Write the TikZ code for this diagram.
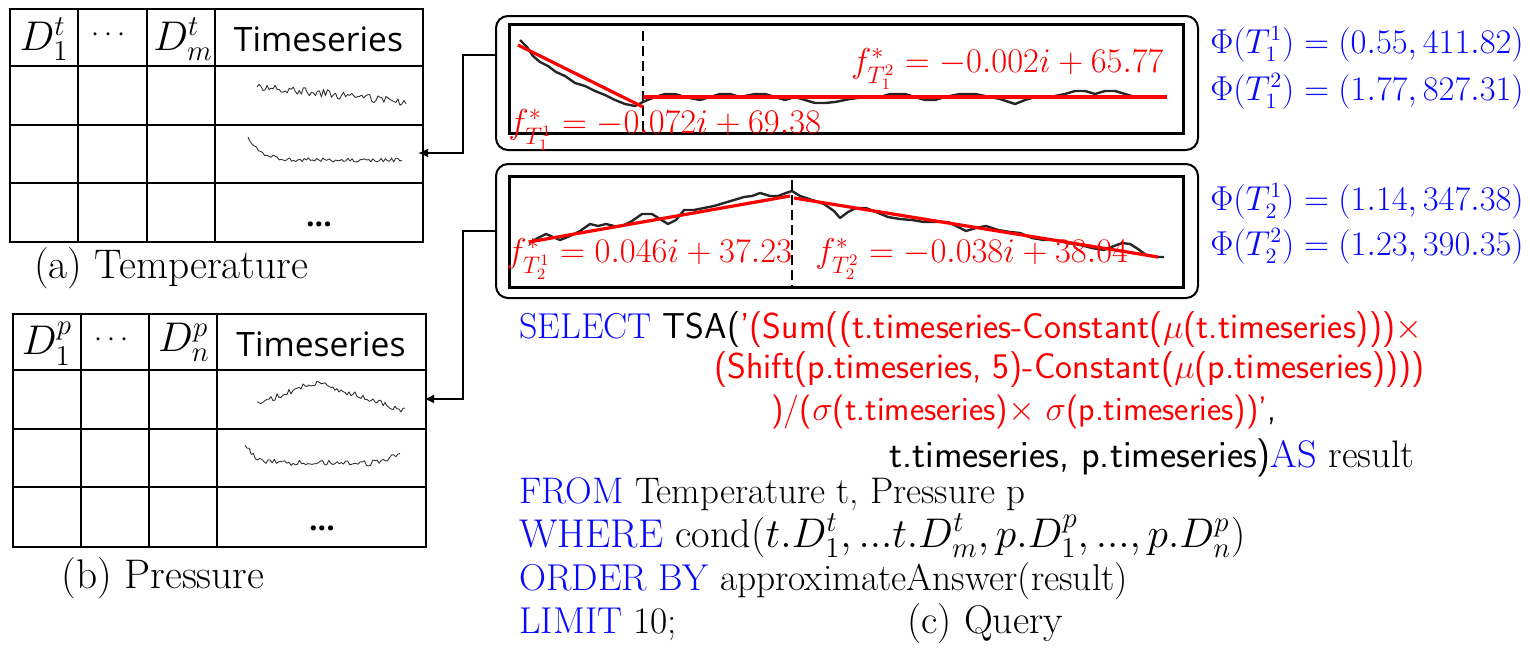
\documentclass[tikz,border=0pt]{standalone}
\usepackage{amsmath}
\usepackage{fontspec}
\newfontfamily\osans{Open Sans}
\usetikzlibrary{arrows.meta}
\definecolor{qblue}{RGB}{10,10,250}
\definecolor{qred}{RGB}{250,0,0}
\begin{document}
\begin{tikzpicture}[x=0.5pt,y=-0.5pt,
  tabline/.style={line width=1pt},
  hdrtext/.style={font=\fontsize{21.5}{23}\selectfont, inner sep=0pt},
  hdrdots/.style={font=\fontsize{14}{16}\selectfont, inner sep=0pt},
  hdrsf/.style={font=\osans\fontsize{16.8}{19}\selectfont, inner sep=0pt},
  captext/.style={font=\fontsize{20.7}{23}\selectfont, inner sep=0pt},
  spark/.style={line width=0.45pt, black!80, line join=round},
  tseries/.style={line width=1.2pt, black!85, line join=round},
  fitline/.style={line width=1.6pt, qred},
  cutline/.style={line width=0.9pt, dashed, dash pattern=on 5pt off 2.5pt},
  outerbox/.style={line width=1pt, rounded corners=6pt},
  innerbox/.style={line width=1.3pt},
  lbltext/.style={text=qred, font=\fontsize{17}{19}\selectfont, inner sep=0pt},
  phitext/.style={text=qblue, font=\fontsize{16}{18}\selectfont, inner sep=0pt, anchor=base west},
  sqltext/.style={inner sep=0pt, anchor=base west},
  arr/.style={line width=0.9pt, -{Latex[length=5pt,width=4.5pt]}},
  dotstext/.style={font=\osans\bfseries\fontsize{15}{17}\selectfont, inner sep=0pt, anchor=base}
]
\useasboundingbox (0,0) rectangle (1530,659);
\pgfmathsetseed{7}

% ---------- Table (a)
\node[draw, tabline, minimum width=206.5pt, minimum height=116.5pt, inner sep=0pt, anchor=north west] (tabA) at (9,8) {};
\foreach \x in {78,147,215} \draw[tabline] (\x,8) -- (\x,241);
\foreach \y in {66,125,183} \draw[tabline] (9,\y) -- (422,\y);
\node[hdrtext] (a1) at (44,39) {$D_1^t$};
\node[hdrdots] (a2) at (111,35) {$\cdots$};
\node[hdrtext] (a3) at (183,39) {$D_m^t$};
\node[hdrsf] (a4) at (318.5,39) {Timeseries};
\node[dotstext] (a5) at (319,226) {...};
\draw[spark] plot[domain=257:406,samples=75] (\x,{86+0.11*(\x-257)+4*rand});
\draw[spark] plot[domain=248:402,samples=75] (\x,{160-24*exp(-(\x-248)/12)+2*rand});
\node[captext] (capA) at (171,268) {(a) Temperature};

% ---------- Table (b)
\node[draw, tabline, minimum width=206.5pt, minimum height=116.5pt, inner sep=0pt, anchor=north west] (tabB) at (12,313) {};
\foreach \x in {81,149,217} \draw[tabline] (\x,313) -- (\x,546);
\foreach \y in {370,429,487} \draw[tabline] (12,\y) -- (425,\y);
\node[hdrtext] (b1) at (47,344) {$D_1^p$};
\node[hdrdots] (b2) at (114,340) {$\cdots$};
\node[hdrtext] (b3) at (184,342) {$D_n^p$};
\node[hdrsf] (b4) at (321,344) {Timeseries};
\node[dotstext] (b5) at (322,530) {...};
\draw[spark] plot[domain=257:405,samples=75] (\x,{((\x<316)?(404-22*(\x-257)/59):(382+29*(\x-316)/89))+3*rand});
\draw[spark] plot[domain=245:400,samples=75] (\x,{463-19*exp(-(\x-245)/10)-8*(\x>370)*((\x-370)/30)+3*rand});
\node[captext] (capB) at (163,578) {(b) Pressure};

% ---------- Top segmented series box
\node[draw, outerbox, minimum width=351pt, minimum height=67pt, inner sep=0pt, anchor=north west] (boxT) at (495,15) {};
\node[draw, innerbox, minimum width=337pt, minimum height=54.5pt, inner sep=0pt, anchor=north west] (inT) at (508,23) {};
\draw[tseries] (520,40) -- (527,47) -- (533,56) -- (540,62) -- (548,66) -- (556,72) -- (565,76) -- (575,83) -- (585,86) -- (595,91) -- (605,95) -- (615,100) -- (625,104) -- (635,106) -- (645,101) -- (655,97) -- (665,94) -- (675,94) -- (685,97) -- (700,100) -- (710,97) -- (720,94) -- (730,94) -- (740,97) -- (755,94) -- (765,94) -- (775,97) -- (785,100) -- (795,97) -- (805,100) -- (815,103) -- (825,103) -- (835,102) -- (850,99) -- (865,97) -- (880,97) -- (890,94) -- (905,94) -- (915,97) -- (925,100) -- (935,100) -- (945,97) -- (960,94) -- (975,94) -- (990,97) -- (1000,99) -- (1015,104) -- (1025,100) -- (1035,97) -- (1050,97) -- (1065,94) -- (1075,91) -- (1085,91) -- (1095,94) -- (1105,91) -- (1115,91) -- (1125,94) -- (1135,97) -- (1145,97) -- (1165,97);
\draw[cutline] (643,31) -- (643,132);
\draw[fitline] (518,45) -- (643,107);
\draw[fitline] (643,97) -- (1167,97);
\node[lbltext, anchor=base east] (l12) at (1164,72) {$f^*_{T_1^2} = -0.002i + 65.77$};
\node[lbltext, anchor=base west] (l11) at (508,133) {$f^*_{T_1^1} = -0.072i + 69.38$};

% ---------- Bottom segmented series box
\node[draw, outerbox, minimum width=351pt, minimum height=67pt, inner sep=0pt, anchor=north west] (boxB) at (495,163) {};
\node[draw, innerbox, minimum width=337pt, minimum height=55.5pt, inner sep=0pt, anchor=north west] (inB) at (508,175) {};
\draw[tseries] (529,243) -- (538,238) -- (546,234) -- (553,237) -- (560,240) -- (570,236) -- (580,231) -- (590,224) -- (598,226) -- (606,224) -- (614,226) -- (622,226) -- (632,221) -- (642,214) -- (652,214) -- (660,219) -- (668,224) -- (676,220) -- (684,210) -- (694,210) -- (704,208) -- (714,206) -- (724,203) -- (734,200) -- (744,197) -- (752,196) -- (760,193) -- (770,196) -- (778,196) -- (786,193) -- (792,191) -- (800,196) -- (812,200) -- (824,204) -- (834,211) -- (840,218) -- (848,212) -- (856,208) -- (866,208) -- (876,212) -- (888,217) -- (900,219) -- (912,220) -- (924,222) -- (936,222) -- (948,222) -- (958,227) -- (966,231) -- (976,228) -- (986,226) -- (998,230) -- (1010,232) -- (1020,233) -- (1032,238) -- (1044,240) -- (1056,240) -- (1068,243) -- (1080,245) -- (1092,248) -- (1104,250) -- (1114,246) -- (1122,243) -- (1130,244) -- (1138,249) -- (1146,255) -- (1156,257) -- (1164,257);
\draw[cutline] (792,180) -- (792,286);
\draw[fitline] (529,242) -- (790,196);
\draw[fitline] (794,198) -- (1158,257);
\node[lbltext, anchor=base west] (l21) at (506,262) {$f^*_{T_2^1} = 0.046i + 37.23$};
\node[lbltext, anchor=base west] (l22) at (815,262) {$f^*_{T_2^2} = -0.038i + 38.04$};

% ---------- Feature vectors
\node[phitext] (p11) at (1210,53) {$\Phi(T_1^1) = (0.55, 411.82)$};
\node[phitext] (p12) at (1210,100) {$\Phi(T_1^2) = (1.77, 827.31)$};
\node[phitext] (p21) at (1210,210) {$\Phi(T_2^1) = (1.14, 347.38)$};
\node[phitext] (p22) at (1210,255) {$\Phi(T_2^2) = (1.23, 390.35)$};

% ---------- Connectors
\coordinate (outT) at (495,55);
\coordinate (inA) at (418,153);
\coordinate (outB) at (495,231);
\coordinate (inBt) at (424,399);
\draw[arr] (outT) -- (463,55) |- (inA);
\draw[arr] (outB) -- (463,231) |- (inBt);

% ---------- Query
\node[sqltext, font=\fontsize{18}{20}\selectfont] (q1) at (519,338) {\textcolor{qblue}{SELECT} \textsf{TSA(}\textcolor{qred}{\textsf{'(Sum((t.timeseries-Constant($\mu$(t.timeseries)))$\times$}}};
\node[sqltext, font=\fontsize{18}{20}\selectfont] (q2) at (714,378) {\textcolor{qred}{\textsf{(Shift(p.timeseries, 5)-Constant($\mu$(p.timeseries))))}}};
\node[sqltext, font=\fontsize{17}{19}\selectfont] (q3) at (771,420) {\textcolor{qred}{\textsf{)/($\sigma$(t.timeseries)$\times$ $\sigma$(p.timeseries))'}}\textsf{,}};
\node[sqltext, font=\fontsize{19.2}{21}\selectfont] (q4) at (889,467) {\textsf{t.timeseries, p.timeseries)}\textcolor{qblue}{AS} result};
\node[sqltext, font=\fontsize{18.5}{20}\selectfont] (q5) at (519,503) {\textcolor{qblue}{FROM} Temperature t, Pressure p};
\node[sqltext, font=\fontsize{20.1}{22}\selectfont] (q6) at (519,547) {\textcolor{qblue}{WHERE} cond($t.D_1^t,...t.D_m^t,p.D_1^p,...,p.D_n^p$)};
\node[sqltext, font=\fontsize{18.7}{20}\selectfont] (q7) at (519,590) {\textcolor{qblue}{ORDER BY} approximateAnswer(result)};
\node[sqltext, font=\fontsize{18.7}{20}\selectfont] (q8) at (519,633) {\textcolor{qblue}{LIMIT} 10;};
\node[sqltext, font=\fontsize{20}{22}\selectfont] (capC) at (907,633) {(c) Query};
\end{tikzpicture}
\end{document}
